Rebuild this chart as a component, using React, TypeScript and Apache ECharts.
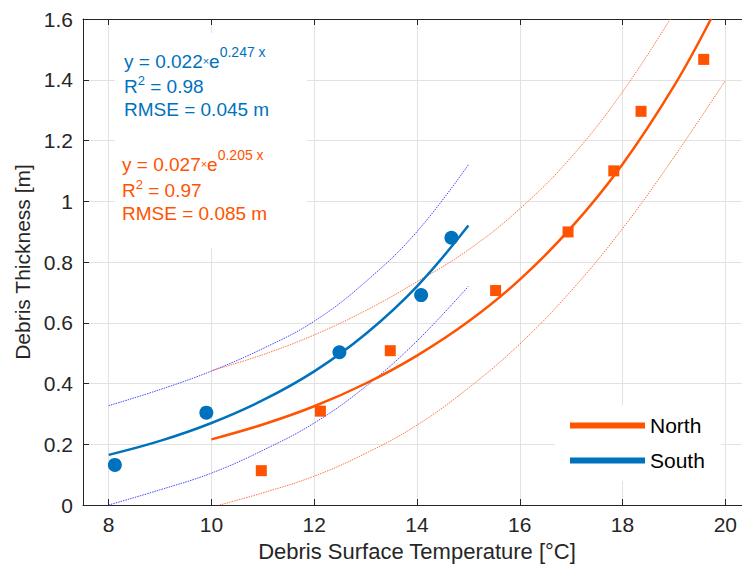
import React, { useEffect, useRef } from 'react';
import * as echarts from 'echarts';

const FONT = '"Liberation Sans", Arial, Helvetica, sans-serif';
const BLUE = '#0072BD';
const ORANGE = '#FF5300';
const BLUE_BAND = '#4848ff';
const ORANGE_BAND = '#ff7448';

// Measured points
const southX = [8.12, 9.9, 12.49, 14.08, 14.67];
const southY = [0.132, 0.304, 0.503, 0.691, 0.88];
const northX = [10.97, 12.12, 13.48, 15.53, 16.94, 17.83, 18.36, 19.58];
const northY = [0.113, 0.309, 0.508, 0.706, 0.899, 1.1, 1.296, 1.467];

// Fitted curves and bounds
const southFitX = [8, 9, 10, 11, 12, 13, 14, 15];
const southFitY = [0.165, 0.211, 0.27, 0.345, 0.44, 0.563, 0.72, 0.92];
const southUpperY = [0.327, 0.38, 0.441, 0.515, 0.605, 0.735, 0.9, 1.12];
const southLowerY = [0.0, 0.05, 0.105, 0.18, 0.27, 0.39, 0.54, 0.72];

const northFitX = [10, 11, 12, 13, 14, 15, 16, 17, 18, 19, 19.72];
const northFitY = [0.216, 0.265, 0.325, 0.4, 0.492, 0.604, 0.742, 0.913, 1.122, 1.379, 1.6];
const northUpperX = [10, 11, 12, 13, 14, 15, 16, 17, 18, 18.93];
const northUpperY = [0.442, 0.495, 0.56, 0.64, 0.735, 0.84, 0.975, 1.145, 1.36, 1.6];
const northLowerX = [10.16, 11, 12, 13, 14, 15, 16, 17, 18, 19, 20];
const northLowerY = [0, 0.04, 0.095, 0.17, 0.263, 0.385, 0.53, 0.705, 0.91, 1.145, 1.397];

const zip = (xs: number[], ys: number[]) => xs.map((x, i) => [x, ys[i]]);

function eqText(x: number, y: number, color: string, coef: string, exp: string) {
  return {
    type: 'text',
    x,
    y,
    z: 10,
    style: {
      text: `{m|y = ${coef}}{t|×}{m|e}{s|${exp} x}`,
      fill: color,
      align: 'left',
      verticalAlign: 'middle',
      rich: {
        m: { fontSize: 19, lineHeight: 32, fontFamily: FONT, fill: color },
        t: { fontSize: 11, lineHeight: 30, fontFamily: FONT, fill: color },
        s: { fontSize: 14, lineHeight: 14, verticalAlign: 'top', fontFamily: FONT, fill: color },
      },
    },
  };
}

function r2Text(x: number, y: number, color: string, val: string) {
  return {
    type: 'text',
    x,
    y,
    z: 10,
    style: {
      text: `{m|R}{s|2}{m| = ${val}}`,
      fill: color,
      align: 'left',
      verticalAlign: 'middle',
      rich: {
        m: { fontSize: 19, lineHeight: 24, fontFamily: FONT, fill: color },
        s: { fontSize: 13, lineHeight: 13, verticalAlign: 'top', fontFamily: FONT, fill: color },
      },
    },
  };
}

function plainText(x: number, y: number, color: string, text: string) {
  return {
    type: 'text',
    x,
    y,
    z: 10,
    style: {
      text,
      fill: color,
      fontSize: 19,
      fontFamily: FONT,
      align: 'left',
      verticalAlign: 'middle',
    },
  };
}

export default function App() {
  const ref = useRef<HTMLDivElement>(null);
  useEffect(() => {
    if (!ref.current) return;
    const chart = echarts.init(ref.current, null, { renderer: 'svg' });
    const axisColor = '#262626';
    const gridColor = '#e2e2e2';
    const bandLine = (name: string, xs: number[], ys: number[], color: string) => ({
      name,
      type: 'line',
      data: zip(xs, ys),
      smooth: 0.4,
      showSymbol: false,
      lineStyle: { color, width: 1, type: [1.5, 1] },
      z: 2,
    });
    const option: any = {
      animation: false,
      backgroundColor: '#fff',
      grid: {
        left: 83,
        top: 19,
        width: 668,
        bottom: 65,
        containLabel: false,
        outerBoundsMode: 'none',
      },
      xAxis: [
        {
          type: 'value',
          min: 7.5,
          max: 20.5,
          splitNumber: 6,
          name: 'Debris Surface Temperature [°C]',
          nameLocation: 'middle',
          nameGap: 35,
          nameTextStyle: { fontSize: 22, color: axisColor, fontFamily: FONT },
          axisLine: { show: true, lineStyle: { color: axisColor, width: 1 } },
          axisTick: { show: true, inside: true, length: 6, lineStyle: { color: axisColor } },
          axisLabel: {
            fontSize: 21,
            color: axisColor,
            fontFamily: FONT,
            margin: 9,
            showMinLabel: false,
            showMaxLabel: false,
          },
          splitLine: { show: true, lineStyle: { color: gridColor, width: 1 } },
        },
        {
          type: 'value',
          position: 'top',
          min: 7.5,
          max: 20.5,
          splitNumber: 6,
          axisLine: { show: true, lineStyle: { color: axisColor, width: 1 } },
          axisTick: { show: true, inside: true, length: 6, lineStyle: { color: axisColor } },
          axisLabel: { show: false },
          splitLine: { show: false },
        },
      ],
      yAxis: {
        type: 'value',
        min: 0,
        max: 1.6,
        interval: 0.2,
        name: 'Debris Thickness [m]',
        nameLocation: 'middle',
        nameGap: 48,
        nameTextStyle: { fontSize: 21, color: axisColor, fontFamily: FONT },
        axisLine: { show: true, lineStyle: { color: axisColor, width: 1 } },
        axisTick: { show: true, inside: true, length: 6, lineStyle: { color: axisColor } },
        axisLabel: { fontSize: 21, color: axisColor, fontFamily: FONT, margin: 10 },
        splitLine: { show: true, lineStyle: { color: gridColor, width: 1 } },
      },
      legend: {
        data: ['North', 'South'],
        orient: 'vertical',
        left: 555,
        top: 405,
        backgroundColor: '#fff',
        padding: [10, 16, 10, 15],
        itemWidth: 75,
        itemHeight: 6,
        itemGap: 14,
        icon: 'rect',
        selectedMode: false,
        textStyle: { fontSize: 21, color: '#000', fontFamily: FONT },
        z: 20,
      },
      graphic: [
        {
          type: 'rect',
          z: 1,
          shape: { x: 115, y: 33, width: 192, height: 215 },
          style: { fill: '#fff' },
        },
        eqText(124, 61, BLUE, '0.022', '0.247'),
        r2Text(124, 86, BLUE, '0.98'),
        plainText(124, 109, BLUE, 'RMSE = 0.045 m'),
        eqText(122, 164, ORANGE, '0.027', '0.205'),
        r2Text(122, 190, ORANGE, '0.97'),
        plainText(122, 213, ORANGE, 'RMSE = 0.085 m'),
      ],
      series: [
        bandLine('South upper', southFitX, southUpperY, BLUE_BAND),
        bandLine('South lower', southFitX, southLowerY, BLUE_BAND),
        bandLine('North upper', northUpperX, northUpperY, ORANGE_BAND),
        bandLine('North lower', northLowerX, northLowerY, ORANGE_BAND),
        {
          name: 'South',
          type: 'line',
          data: zip(southFitX, southFitY),
          smooth: 0.4,
          showSymbol: false,
          color: BLUE,
          lineStyle: { color: BLUE, width: 2.5 },
          z: 3,
        },
        {
          name: 'North',
          type: 'line',
          data: zip(northFitX, northFitY),
          smooth: 0.4,
          showSymbol: false,
          color: ORANGE,
          lineStyle: { color: ORANGE, width: 2.5 },
          z: 3,
        },
        {
          name: 'South data',
          type: 'scatter',
          data: zip(southX, southY),
          symbol: 'circle',
          symbolSize: 14,
          itemStyle: { color: BLUE, opacity: 1 },
          z: 4,
        },
        {
          name: 'North data',
          type: 'scatter',
          data: zip(northX, northY),
          symbol: 'rect',
          symbolSize: 11,
          itemStyle: { color: ORANGE, opacity: 1 },
          z: 4,
        },
      ],
    };
    chart.setOption(option);
    return () => chart.dispose();
  }, []);
  return (
    <div
      ref={ref}
      style={{ position: 'fixed', left: 0, top: 0, width: 742, height: 570, background: '#fff' }}
    />
  );
}
